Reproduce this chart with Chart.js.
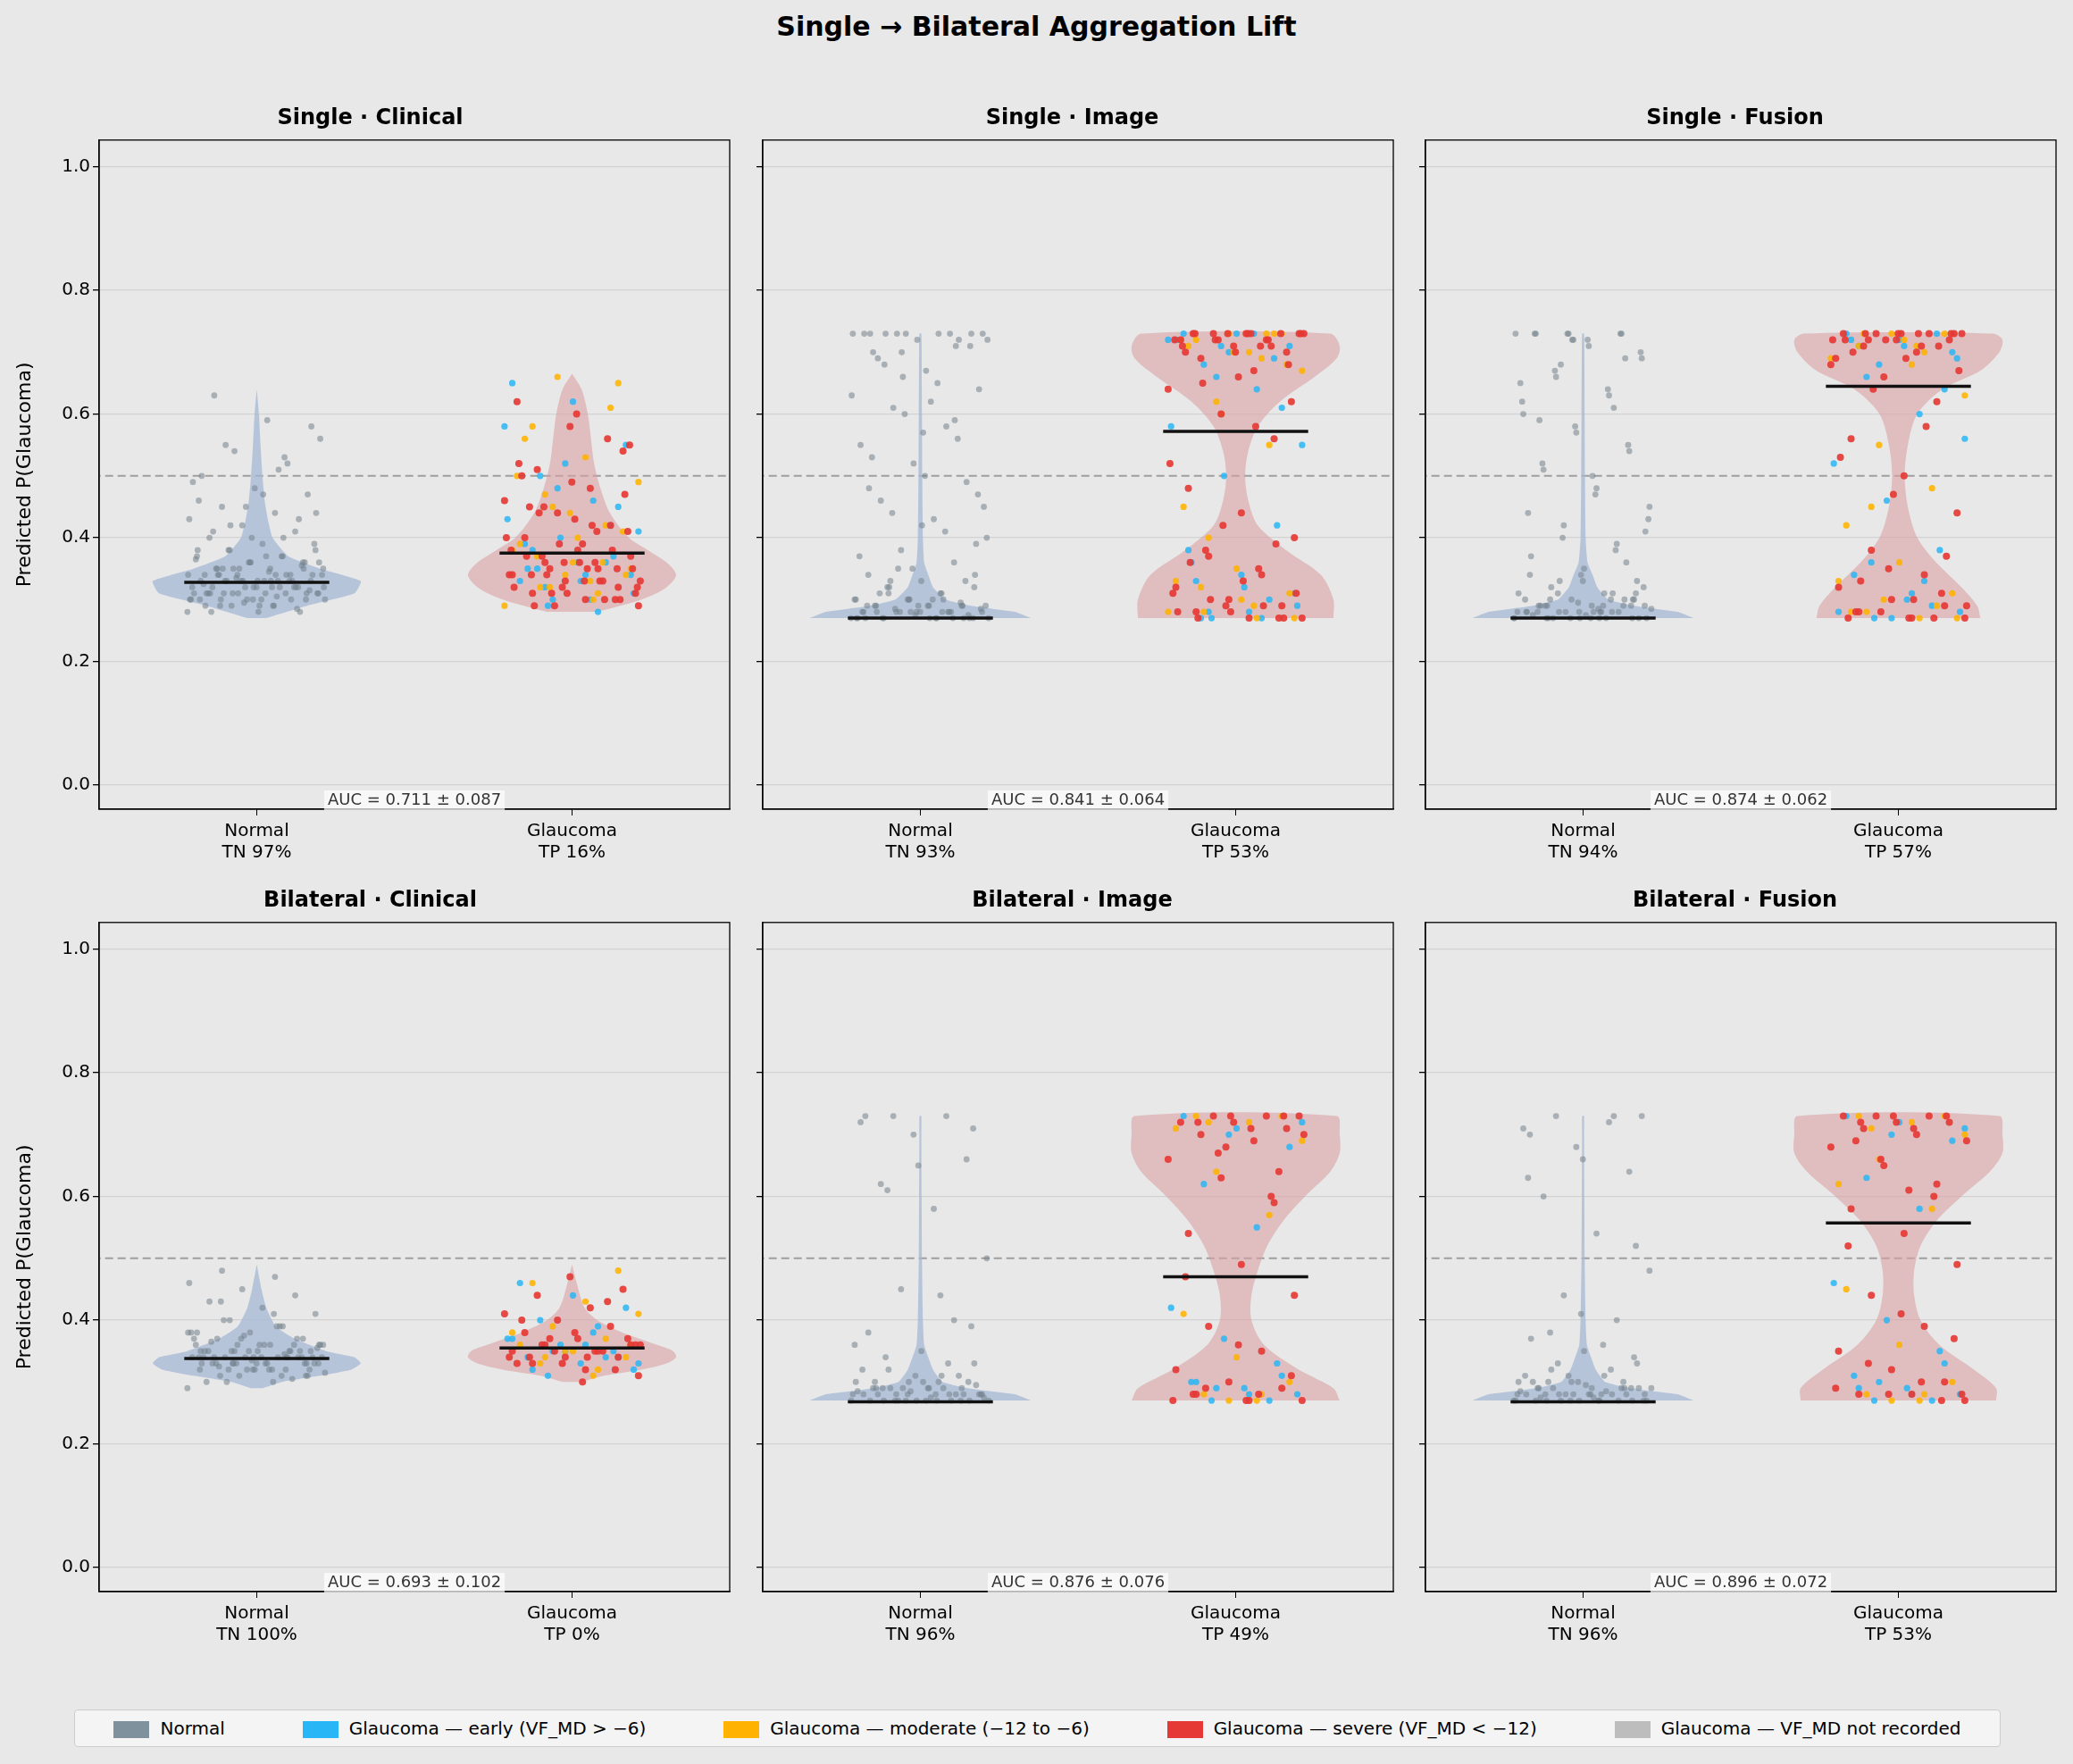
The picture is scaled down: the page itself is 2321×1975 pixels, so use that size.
<!DOCTYPE html>
<html><head><meta charset="utf-8">
<script src="https://cdn.jsdelivr.net/npm/chart.js@4.4.1/dist/chart.umd.min.js"></script>
<style>
body{margin:0;background:#e8e8e8;font-family:"DejaVu Sans",sans-serif;width:2321px;height:1975px;position:relative;overflow:hidden}
.p{position:absolute}
#title{position:absolute;top:12px;width:100%;text-align:center;font-weight:bold;font-size:30px}
#legend{position:absolute;left:83px;top:1914px;width:2155px;height:40px;border:1px solid #ccc;border-radius:4px;background:#f4f4f4;display:flex;align-items:center;justify-content:space-around;font-size:20px}
#legend span.sw{display:inline-block;width:40px;height:19px;margin-right:12px;vertical-align:middle}
</style></head><body>
<div id="title">Single → Bilateral Aggregation Lift</div>
<div id="legend">
<div><span class="sw" style="background:#7f919c"></span>Normal</div>
<div><span class="sw" style="background:#29b6f6"></span>Glaucoma — early (VF_MD &gt; −6)</div>
<div><span class="sw" style="background:#ffb300"></span>Glaucoma — moderate (−12 to −6)</div>
<div><span class="sw" style="background:#e53935"></span>Glaucoma — severe (VF_MD &lt; −12)</div>
<div><span class="sw" style="background:#bdbdbd"></span>Glaucoma — VF_MD not recorded</div>
</div>
<script>
// ---- data ----
const panelTitles = ['Single · Clinical','Single · Image','Single · Fusion','Bilateral · Clinical','Bilateral · Image','Bilateral · Fusion'];
const aucLabels = ['AUC = 0.711 ± 0.087','AUC = 0.841 ± 0.064','AUC = 0.874 ± 0.062','AUC = 0.693 ± 0.102','AUC = 0.876 ± 0.076','AUC = 0.896 ± 0.072'];
const tnLabels = ['TN 97%','TN 93%','TN 94%','TN 100%','TN 96%','TN 96%'];
const tpLabels = ['TP 16%','TP 53%','TP 57%','TP 0%','TP 49%','TP 53%'];
const yTicks = [0, 0.2, 0.4, 0.6, 0.8, 1.0];
const threshold = 0.5;
const normalMedian = [0.328, 0.27, 0.27, 0.338, 0.268, 0.268];
const glaucomaMedian = [0.375, 0.572, 0.645, 0.355, 0.47, 0.557];

// violin profiles: y levels and half-widths (x units)
const normalViolinY = [
  [0.27,0.29,0.31,0.33,0.35,0.37,0.40,0.43,0.46,0.50,0.55,0.60,0.64],
  [0.27,0.28,0.29,0.30,0.32,0.34,0.36,0.40,0.50,0.60,0.70,0.73],
  [0.27,0.28,0.29,0.30,0.32,0.34,0.36,0.40,0.50,0.60,0.70,0.73],
  [0.29,0.30,0.31,0.32,0.33,0.34,0.35,0.37,0.39,0.42,0.45,0.49],
  [0.27,0.28,0.29,0.30,0.32,0.34,0.36,0.40,0.50,0.60,0.70,0.73],
  [0.27,0.28,0.29,0.30,0.32,0.34,0.36,0.40,0.50,0.60,0.70,0.73]];
const normalViolinW = [
  [0.03,0.16,0.31,0.33,0.2,0.1,0.05,0.035,0.025,0.018,0.012,0.007,0],
  [0.35,0.3,0.16,0.08,0.04,0.025,0.012,0.008,0.006,0.005,0.004,0.003],
  [0.35,0.3,0.16,0.08,0.045,0.03,0.014,0.008,0.006,0.005,0.004,0.003],
  [0.02,0.08,0.2,0.3,0.33,0.31,0.22,0.12,0.06,0.03,0.015,0],
  [0.35,0.3,0.15,0.07,0.04,0.025,0.012,0.008,0.005,0.004,0.003,0.003],
  [0.35,0.3,0.15,0.07,0.04,0.025,0.012,0.008,0.005,0.004,0.003,0.003]];
const glaucomaViolinY = [
  [0.28,0.30,0.32,0.34,0.36,0.38,0.40,0.44,0.48,0.52,0.56,0.60,0.64,0.665],
  [0.27,0.30,0.34,0.38,0.42,0.46,0.50,0.54,0.58,0.62,0.66,0.69,0.71,0.73],
  [0.27,0.29,0.32,0.36,0.40,0.45,0.50,0.55,0.60,0.64,0.67,0.70,0.72,0.73],
  [0.30,0.31,0.32,0.33,0.34,0.35,0.36,0.38,0.40,0.42,0.45,0.49],
  [0.27,0.29,0.32,0.36,0.40,0.44,0.48,0.52,0.56,0.60,0.64,0.67,0.70,0.73],
  [0.27,0.29,0.32,0.36,0.40,0.44,0.48,0.52,0.56,0.60,0.64,0.67,0.70,0.73]];
const glaucomaViolinW = [
  [0.08,0.22,0.3,0.33,0.3,0.24,0.18,0.12,0.09,0.07,0.06,0.05,0.03,0],
  [0.31,0.31,0.27,0.16,0.07,0.04,0.03,0.04,0.07,0.14,0.25,0.32,0.33,0.3],
  [0.26,0.25,0.2,0.12,0.06,0.03,0.02,0.03,0.06,0.14,0.26,0.32,0.33,0.3],
  [0.03,0.1,0.22,0.3,0.33,0.32,0.27,0.16,0.08,0.04,0.02,0],
  [0.33,0.31,0.2,0.09,0.05,0.05,0.07,0.1,0.15,0.22,0.3,0.33,0.33,0.32],
  [0.31,0.31,0.24,0.13,0.07,0.05,0.05,0.07,0.12,0.2,0.29,0.33,0.33,0.32]];

// strip points (predicted probabilities)
const normalPts = [
  [0.28,0.29,0.29,0.30,0.30,0.30,0.31,0.31,0.31,0.31,0.32,0.32,0.32,0.32,0.33,0.33,0.33,0.33,0.34,0.34,0.34,0.35,0.35,0.35,0.36,0.36,0.37,0.37,0.38,0.38,0.39,0.40,0.41,0.42,0.43,0.44,0.45,0.47,0.48,0.50,0.52,0.54,0.56,0.59,0.63,0.28,0.30,0.31,0.32,0.33,0.34,0.29,0.31,0.33,0.35,0.30,0.32,0.34,0.36,0.40,0.46,0.53,0.29,0.31,0.33,
   0.28,0.285,0.295,0.30,0.305,0.31,0.315,0.32,0.325,0.33,0.335,0.34,0.345,0.35,0.355,0.36,0.365,0.37,0.38,0.39,0.30,0.31,0.32,0.33,0.34,0.29,0.30,0.31,0.32,0.33,0.34,0.35,0.36,0.37,0.41,0.43,0.45,0.49,0.51,0.55,0.58,0.28,0.29,0.30,0.31,0.32,0.33,0.34,0.35,0.36,0.38,0.40,0.42,0.44,0.47,0.31,0.32,0.33,0.30,0.34,0.35],
  [0.27,0.27,0.27,0.27,0.28,0.28,0.28,0.28,0.28,0.29,0.29,0.29,0.30,0.30,0.31,0.31,0.32,0.33,0.34,0.36,0.38,0.40,0.43,0.46,0.49,0.52,0.55,0.58,0.61,0.64,0.67,0.70,0.72,0.73,0.73,0.73,0.73,0.73,0.29,0.27,0.28,0.35,0.45,0.62,0.69,0.27,0.28,0.27,0.30,0.33,0.39,0.57,0.73,0.71,0.66,
   0.27,0.27,0.27,0.275,0.275,0.28,0.28,0.285,0.285,0.29,0.29,0.295,0.30,0.30,0.31,0.32,0.27,0.28,0.29,0.27,0.28,0.29,0.30,0.31,0.33,0.35,0.37,0.41,0.44,0.47,0.50,0.53,0.56,0.60,0.63,0.65,0.68,0.71,0.72,0.73,0.73,0.73,0.73,0.27,0.28,0.29,0.30,0.27,0.28,0.32,0.34,0.42,0.48,0.59,0.70,0.72],
  [0.27,0.27,0.27,0.27,0.28,0.28,0.28,0.28,0.29,0.29,0.29,0.30,0.30,0.31,0.31,0.32,0.33,0.35,0.37,0.39,0.42,0.45,0.48,0.51,0.54,0.57,0.60,0.63,0.66,0.69,0.71,0.73,0.73,0.73,0.73,0.28,0.27,0.30,0.34,0.44,0.61,0.68,0.27,0.28,0.29,0.36,0.72,0.65,
   0.27,0.27,0.27,0.275,0.275,0.28,0.28,0.285,0.285,0.29,0.29,0.295,0.30,0.30,0.31,0.32,0.27,0.28,0.29,0.27,0.28,0.29,0.30,0.31,0.33,0.34,0.38,0.40,0.43,0.47,0.52,0.55,0.58,0.62,0.64,0.67,0.70,0.72,0.73,0.73,0.73,0.27,0.28,0.29,0.30,0.27,0.28,0.31,0.33,0.41,0.50,0.59,0.69,0.72],
  [0.29,0.30,0.31,0.31,0.32,0.32,0.32,0.33,0.33,0.33,0.33,0.34,0.34,0.34,0.34,0.34,0.35,0.35,0.35,0.35,0.36,0.36,0.36,0.37,0.37,0.38,0.38,0.39,0.40,0.41,0.42,0.43,0.44,0.45,0.46,0.47,0.48,0.31,0.32,0.33,0.34,0.35,0.36,0.33,0.34,0.35,0.32,0.37,0.39,0.30,0.34,0.36,
   0.30,0.305,0.31,0.315,0.32,0.325,0.33,0.335,0.34,0.345,0.35,0.355,0.36,0.365,0.37,0.375,0.38,0.39,0.40,0.32,0.33,0.34,0.35,0.33,0.34,0.32,0.33,0.34,0.35,0.36,0.31,0.32,0.33,0.34,0.35,0.36,0.37,0.38,0.41,0.43,0.33,0.34,0.35,0.34,0.33,0.36],
  [0.27,0.27,0.27,0.27,0.27,0.28,0.28,0.28,0.28,0.29,0.29,0.29,0.30,0.30,0.31,0.32,0.33,0.35,0.38,0.40,0.45,0.50,0.58,0.62,0.66,0.70,0.72,0.73,0.73,0.28,0.27,0.29,0.31,0.27,0.28,0.30,0.34,0.39,0.65,0.73,
   0.27,0.27,0.275,0.275,0.28,0.28,0.285,0.285,0.29,0.29,0.295,0.30,0.27,0.28,0.29,0.27,0.28,0.29,0.30,0.31,0.32,0.33,0.27,0.28,0.29,0.30,0.27,0.28,0.36,0.44,0.61,0.71],
  [0.27,0.27,0.27,0.27,0.27,0.28,0.28,0.28,0.28,0.29,0.29,0.29,0.30,0.30,0.31,0.32,0.33,0.35,0.37,0.40,0.44,0.48,0.54,0.60,0.64,0.68,0.71,0.72,0.73,0.73,0.28,0.27,0.29,0.31,0.27,0.28,0.30,0.34,0.41,0.63,0.73,
   0.27,0.27,0.275,0.275,0.28,0.28,0.285,0.285,0.29,0.29,0.295,0.30,0.27,0.28,0.29,0.27,0.28,0.29,0.30,0.31,0.32,0.33,0.27,0.28,0.29,0.30,0.27,0.28,0.36,0.38,0.52,0.66,0.70]];
const earlyPts = [
  [0.29,0.31,0.33,0.35,0.37,0.40,0.43,0.46,0.50,0.55,0.62,0.33,0.36,0.30,0.41,0.34,0.38,0.45,0.52,0.65,0.28,0.32,0.34,0.36,0.39,0.42,0.48,0.58,0.30,0.35],
  [0.27,0.29,0.32,0.36,0.42,0.50,0.58,0.64,0.68,0.71,0.73,0.73,0.30,0.66,0.55,0.28,0.33,0.61,0.70,0.72,0.27,0.28,0.31,0.34,0.38,0.69,0.71,0.72,0.73,0.27],
  [0.27,0.28,0.30,0.34,0.38,0.46,0.52,0.60,0.66,0.70,0.72,0.73,0.29,0.68,0.56,0.31,0.71,0.64,0.27,0.28,0.33,0.36,0.69,0.71,0.72,0.73],
  [0.31,0.32,0.33,0.34,0.35,0.36,0.37,0.38,0.40,0.42,0.44,0.46,0.34,0.35,0.33,0.36,0.32,0.34,0.35,0.37,0.39],
  [0.27,0.28,0.29,0.30,0.33,0.37,0.42,0.55,0.62,0.68,0.71,0.73,0.27,0.29,0.72,0.28,0.30,0.31,0.70],
  [0.27,0.28,0.29,0.31,0.35,0.40,0.46,0.58,0.63,0.69,0.72,0.73,0.27,0.30,0.71,0.28,0.29,0.33,0.70]];
const moderatePts = [
  [0.30,0.32,0.34,0.36,0.39,0.42,0.45,0.49,0.53,0.58,0.65,0.34,0.38,0.31,0.47,0.35,0.40,0.56,0.61,0.66,0.29,0.33,0.37,0.41,0.44,0.50,0.36,0.32],
  [0.27,0.28,0.31,0.35,0.45,0.55,0.62,0.67,0.70,0.72,0.73,0.73,0.33,0.69,0.40,0.27,0.30,0.71,0.73,0.60,0.28,0.29,0.32,0.68,0.70,0.72,0.73],
  [0.27,0.28,0.31,0.36,0.42,0.48,0.55,0.63,0.68,0.71,0.73,0.73,0.33,0.70,0.45,0.27,0.72,0.28,0.29,0.30,0.69,0.71,0.73],
  [0.31,0.33,0.34,0.35,0.36,0.37,0.39,0.41,0.43,0.46,0.48,0.35,0.38,0.32,0.34,0.36],
  [0.27,0.28,0.30,0.34,0.41,0.57,0.64,0.69,0.72,0.73,0.73,0.27,0.71,0.28,0.72],
  [0.27,0.28,0.30,0.36,0.45,0.58,0.66,0.70,0.72,0.73,0.73,0.27,0.62,0.28,0.71]];
const severePts = [
  [0.29,0.30,0.31,0.32,0.33,0.34,0.35,0.36,0.37,0.38,0.40,0.42,0.44,0.46,0.48,0.51,0.54,0.58,0.62,0.33,0.35,0.31,0.39,0.45,0.30,0.32,0.34,0.36,0.37,0.41,0.43,0.50,0.56,0.29,0.33,0.35,
   0.29,0.30,0.31,0.32,0.33,0.34,0.35,0.36,0.37,0.38,0.39,0.40,0.42,0.44,0.47,0.49,0.52,0.30,0.31,0.32,0.33,0.34,0.35,0.36,0.38,0.41,0.45,0.55,0.60],
  [0.27,0.27,0.28,0.29,0.30,0.32,0.34,0.37,0.40,0.44,0.48,0.56,0.60,0.64,0.67,0.69,0.70,0.71,0.72,0.72,0.73,0.73,0.73,0.73,0.27,0.29,0.31,0.35,0.38,0.62,0.66,0.70,0.71,0.72,0.73,0.73,
   0.27,0.27,0.28,0.28,0.29,0.30,0.31,0.33,0.36,0.39,0.42,0.52,0.58,0.65,0.68,0.70,0.71,0.72,0.72,0.73,0.73,0.73,0.73,0.73,0.72,0.71],
  [0.27,0.27,0.28,0.29,0.30,0.32,0.34,0.38,0.44,0.50,0.56,0.62,0.66,0.68,0.70,0.71,0.72,0.72,0.73,0.73,0.73,0.73,0.27,0.28,0.31,0.35,0.69,0.71,0.72,0.73,0.73,
   0.27,0.27,0.28,0.29,0.30,0.33,0.37,0.47,0.53,0.58,0.64,0.67,0.69,0.70,0.71,0.72,0.72,0.73,0.73,0.73,0.73,0.72],
  [0.31,0.32,0.33,0.34,0.34,0.35,0.35,0.36,0.36,0.37,0.38,0.39,0.40,0.41,0.42,0.44,0.45,0.47,0.33,0.35,0.37,0.36,0.30,0.34,0.32,0.33,0.34,0.35,0.36,0.37,0.38,0.40,0.43,0.35,0.36,0.34],
  [0.27,0.27,0.28,0.29,0.30,0.32,0.35,0.39,0.44,0.49,0.54,0.59,0.63,0.66,0.69,0.70,0.71,0.72,0.72,0.73,0.73,0.73,0.27,0.28,0.64,0.68,0.27,0.28,0.29,0.31,0.36,0.47,0.60,0.67,0.70,0.71,0.72,0.73,0.73],
  [0.27,0.28,0.28,0.30,0.32,0.35,0.39,0.44,0.49,0.54,0.58,0.62,0.65,0.68,0.70,0.71,0.72,0.72,0.73,0.73,0.73,0.28,0.61,0.69,0.27,0.28,0.29,0.30,0.33,0.37,0.41,0.52,0.60,0.66,0.69,0.71,0.72,0.73,0.73]];

// ---- layout ----
const colLeft = [111, 854, 1596], rowTop = [160, 1036];
const axW = 706, axH = 746;

function jitter(i, k) { return (((i + k * 7) * 0.6180339) % 1 - 0.5) * 0.44; }
function strip(vals, cx, k) { return vals.map((v, i) => ({ x: cx + jitter(i, k), y: v })); }
function violin(ys, ws, cx) {
  const right = ys.map((y, i) => ({ x: cx + ws[i], y }));
  const left = ys.map((y, i) => ({ x: cx - ws[i], y })).reverse();
  return right.concat(left);
}
function pts(data, color, r) {
  return { type: 'scatter', data, backgroundColor: color, borderWidth: 0, pointRadius: r };
}

const aucPlugin = {
  id: 'auc',
  afterDraw(chart, args, o) {
    const { ctx, chartArea: a } = chart;
    ctx.save();
    ctx.strokeStyle = '#000'; ctx.lineWidth = 1.3;
    ctx.strokeRect(a.left, a.top, a.right - a.left, a.bottom - a.top);
    ctx.font = '18px "DejaVu Sans"';
    const w = ctx.measureText(o.text).width;
    const cx = (a.left + a.right) / 2, cy = a.bottom - 10;
    ctx.fillStyle = 'rgba(255,255,255,0.7)';
    ctx.fillRect(cx - w / 2 - 4, cy - 11, w + 8, 22);
    ctx.fillStyle = '#333';
    ctx.textAlign = 'center'; ctx.textBaseline = 'middle';
    ctx.fillText(o.text, cx, cy);
    ctx.restore();
  }
};

for (let p = 0; p < 6; p++) {
  const col = p % 3, row = Math.floor(p / 3);
  const yw = col === 0 ? 100 : 14;
  const div = document.createElement('div');
  div.className = 'p';
  div.style.left = (colLeft[col] - yw) + 'px';
  div.style.top = (rowTop[row] - 46) + 'px';
  div.style.width = (axW + yw + 4) + 'px';
  div.style.height = (axH + 46 + 84) + 'px';
  const cv = document.createElement('canvas');
  div.appendChild(cv);
  document.body.appendChild(div);

  const datasets = [
    { type: 'line', data: [{ x: -0.23, y: normalMedian[p] }, { x: 0.23, y: normalMedian[p] }], borderColor: '#111', borderWidth: 3.5, pointRadius: 0 },
    { type: 'line', data: [{ x: 0.77, y: glaucomaMedian[p] }, { x: 1.23, y: glaucomaMedian[p] }], borderColor: '#111', borderWidth: 3.5, pointRadius: 0 },
    pts(strip(severePts[p], 1, 3), 'rgba(229,57,53,0.92)', 4),
    pts(strip(moderatePts[p], 1, 2), 'rgba(255,179,0,0.88)', 3.6),
    pts(strip(earlyPts[p], 1, 1), 'rgba(41,182,246,0.85)', 3.6),
    pts(strip(normalPts[p], 0, 0), 'rgba(115,130,140,0.55)', 3.4),
    { type: 'line', data: violin(normalViolinY[p], normalViolinW[p], 0), fill: 'shape', backgroundColor: 'rgba(165,184,214,0.75)', borderWidth: 0, pointRadius: 0, tension: 0.15 },
    { type: 'line', data: violin(glaucomaViolinY[p], glaucomaViolinW[p], 1), fill: 'shape', backgroundColor: 'rgba(218,160,164,0.6)', borderWidth: 0, pointRadius: 0, tension: 0.3 },
    { type: 'line', data: [{ x: -0.6, y: threshold }, { x: 1.6, y: threshold }], borderColor: '#9e9e9e', borderWidth: 2, borderDash: [9, 5], pointRadius: 0 }
  ];

  new Chart(cv, {
    type: 'scatter',
    data: { datasets },
    plugins: [aucPlugin],
    options: {
      responsive: true, maintainAspectRatio: false, animation: false,
      layout: { padding: { right: 3, top: 0 } },
      plugins: {
        legend: { display: false }, tooltip: { enabled: false },
        title: { display: true, text: panelTitles[p], font: { family: 'DejaVu Sans', size: 24, weight: 'bold' }, color: '#000', padding: { top: 4, bottom: 10 } },
        auc: { text: aucLabels[p] }
      },
      scales: {
        x: {
          type: 'linear', min: -0.5, max: 1.5,
          afterBuildTicks: s => { s.ticks = [{ value: 0 }, { value: 1 }]; },
          afterFit: s => { s.height = 84; },
          grid: { drawOnChartArea: false, drawTicks: true, tickLength: 7, color: '#000' },
          border: { color: '#000', width: 1.3 },
          ticks: { color: '#000', font: { family: 'DejaVu Sans', size: 20 }, padding: 6,
            callback: v => v === 0 ? ['Normal', tnLabels[p]] : ['Glaucoma', tpLabels[p]] }
        },
        y: {
          min: -0.039, max: 1.043,
          afterBuildTicks: s => { s.ticks = yTicks.map(v => ({ value: v })); },
          afterFit: s => { s.width = yw; },
          grid: { color: '#d2d2d2', lineWidth: 1.3, tickColor: '#000', tickLength: 7 },
          border: { color: '#000', width: 1.3 },
          ticks: { display: true, color: '#000', font: { family: 'DejaVu Sans', size: 20 },
            callback: v => col === 0 ? v.toFixed(1) : '' },
          title: { display: col === 0, text: 'Predicted P(Glaucoma)', color: '#000', font: { family: 'DejaVu Sans', size: 22 }, padding: 4 }
        }
      }
    }
  });
}
</script>
</body></html>
